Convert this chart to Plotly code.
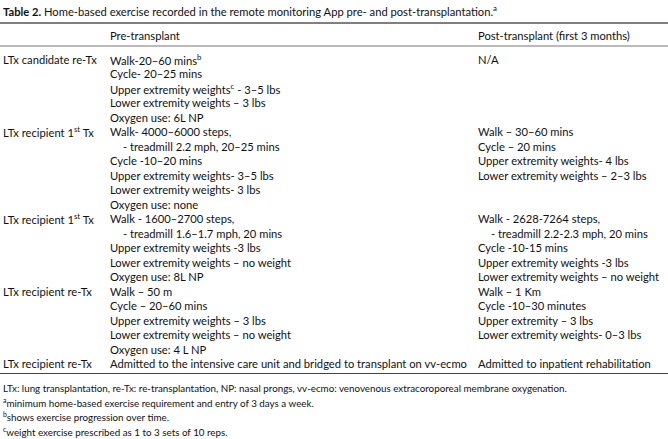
import plotly.graph_objects as go

title_bold = "Table 2."
title_rest = " Home-based exercise recorded in the remote monitoring App pre- and post-transplantation.<sup>a</sup>"
headers = ["", "Pre-transplant", "Post-transplant (first 3 months)"]

row_labels = [
    "LTx candidate re-Tx",
    "LTx recipient 1<sup>st</sup> Tx",
    "LTx recipient 1<sup>st</sup> Tx",
    "LTx recipient re-Tx",
    "LTx recipient re-Tx",
]
pre_lines = [
    ["Walk-20–60 mins<sup>b</sup>", "Cycle- 20–25 mins",
     "Upper extremity weights<sup>c</sup> - 3–5 lbs", "Lower extremity weights – 3 lbs",
     "Oxygen use: 6L NP"],
    ["Walk- 4000–6000 steps,", "- treadmill 2.2 mph, 20–25 mins", "Cycle -10–20 mins",
     "Upper extremity weights- 3–5 lbs", "Lower extremity weights- 3 lbs", "Oxygen use: none"],
    ["Walk - 1600–2700 steps,", "- treadmill 1.6–1.7 mph, 20 mins",
     "Upper extremity weights -3 lbs", "Lower extremity weights – no weight",
     "Oxygen use: 8L NP"],
    ["Walk – 50 m", "Cycle – 20–60 mins", "Upper extremity weights – 3 lbs",
     "Lower extremity weights – no weight", "Oxygen use: 4 L NP"],
    ["Admitted to the intensive care unit and bridged to transplant on vv-ecmo"],
]
post_lines = [
    ["N/A"],
    ["Walk – 30–60 mins", "Cycle – 20 mins", "Upper extremity weights- 4 lbs",
     "Lower extremity weights – 2–3 lbs"],
    ["Walk - 2628-7264 steps,", "- treadmill 2.2-2.3 mph, 20 mins", "Cycle -10-15 mins",
     "Upper extremity weights -3 lbs", "Lower extremity weights – no weight"],
    ["Walk – 1 Km", "Cycle -10–30 minutes", "Upper extremity – 3 lbs",
     "Lower extremity weights- 0–3 lbs"],
    ["Admitted to inpatient rehabilitation"],
]
footnotes = [
    "LTx: lung transplantation, re-Tx: re-transplantation, NP: nasal prongs, vv-ecmo: venovenous extracoroporeal membrane oxygenation.",
    "<sup>a</sup>minimum home-based exercise requirement and entry of 3 days a week.",
    "<sup>b</sup>shows exercise progression over time.",
    "<sup>c</sup>weight exercise prescribed as 1 to 3 sets of 10 reps.",
]

W, H = 668, 439
FONT = "Lato"
FS = 11.2
COL_X = [1, 108, 476]
INDENT = 13
LH = 14.5
TXT = "#111111"

ann = []

def add(x, y, text, size=FS, color=TXT):
    ann.append(dict(x=x, y=y, xref="x", yref="y", text=text, showarrow=False,
                    xanchor="left", yanchor="middle", align="left",
                    font=dict(family=FONT, size=size, color=color)))

add(1, 10, "<b>" + title_bold + "</b>" + title_rest)
add(COL_X[1], 35, headers[1])
add(COL_X[2], 35, headers[2])

y0 = 59
line_idx = 0
for lab, pre, post in zip(row_labels, pre_lines, post_lines):
    y = y0 + line_idx * LH
    add(COL_X[0], y, lab)
    for k, t in enumerate(pre):
        dx = INDENT if t.startswith("- ") else 0
        add(COL_X[1] + dx, y + k * LH, t)
    for k, t in enumerate(post):
        dx = INDENT if t.startswith("- ") else 0
        add(COL_X[2] + dx, y + k * LH, t)
    line_idx += max(len(pre), len(post))

bottom_rule = y0 + (line_idx - 1) * LH + 10
for k, t in enumerate(footnotes):
    add(1, bottom_rule + 14 + k * LH, t, size=9.8)

shapes = [
    dict(type="line", xref="x", yref="y", x0=0, x1=W, y0=23, y1=23,
         line=dict(color="#555555", width=1.5)),
    dict(type="line", xref="x", yref="y", x0=0, x1=W, y0=46, y1=46,
         line=dict(color="#777777", width=1)),
    dict(type="line", xref="x", yref="y", x0=0, x1=W, y0=bottom_rule, y1=bottom_rule,
         line=dict(color="#444444", width=1)),
]

fig = go.Figure()
fig.update_layout(
    width=W, height=H, margin=dict(l=0, r=0, t=0, b=0),
    paper_bgcolor="white", plot_bgcolor="white",
    xaxis=dict(range=[0, W], visible=False, fixedrange=True),
    yaxis=dict(range=[H, 0], visible=False, fixedrange=True),
    annotations=ann, shapes=shapes, showlegend=False,
)
fig.write_html("out.html", config={"displayModeBar": False},
               post_script="document.body.style.margin='0';document.body.style.overflow='hidden';")
